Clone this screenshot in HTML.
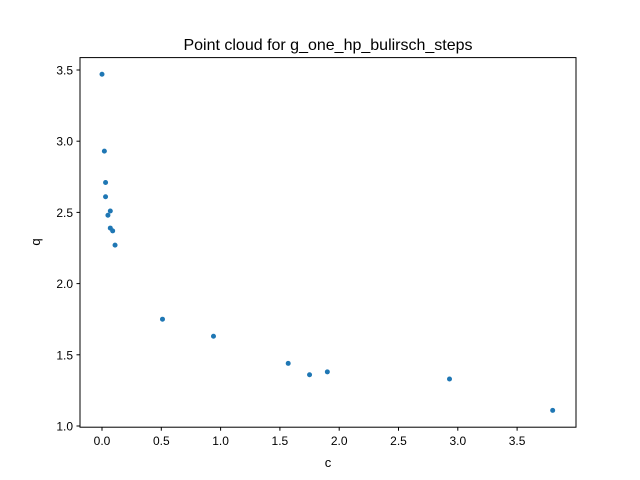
<!DOCTYPE html>
<html><head><meta charset="utf-8"><style>
body{margin:0;background:#fff;}
svg{display:block;font-family:"Liberation Sans","DejaVu Sans",sans-serif;}
</style></head><body>
<svg id="chart" width="640" height="480">
<rect x="0" y="0" width="640" height="480" fill="#fff"/>
<text x="328" y="50" text-anchor="middle" font-size="16">Point cloud for g_one_hp_bulirsch_steps</text>
<g id="xticks"></g>
<g id="yticks"></g>
<g id="points"></g>
<rect x="80" y="57.6" width="496" height="369.6" fill="none" stroke="#000" stroke-width="1"/>
<text x="328" y="467" text-anchor="middle" font-size="13">c</text>
<text x="40" y="242" text-anchor="middle" font-size="13" transform="rotate(-90 40 242)">q</text>
</svg>
<script>
const xValues=[0.0,0.02,0.03,0.03,0.07,0.05,0.07,0.09,0.11,0.51,0.94,1.57,1.75,1.90,2.93,3.80];
const yValues=[3.47,2.93,2.71,2.61,2.51,2.48,2.39,2.37,2.27,1.75,1.63,1.44,1.36,1.38,1.33,1.11];
const xTicks=[0,0.5,1,1.5,2,2.5,3,3.5];
const yTicks=[1,1.5,2,2.5,3,3.5];
const xTickLabels=["0.0","0.5","1.0","1.5","2.0","2.5","3.0","3.5"];
const yTickLabels=["1.0","1.5","2.0","2.5","3.0","3.5"];
const NS="http://www.w3.org/2000/svg";
function sx(v){return 102+v*118.6;}
function sy(v){return 426-(v-1)*142.4;}
function mk(tag,attrs,parent){const e=document.createElementNS(NS,tag);for(const k in attrs)e.setAttribute(k,attrs[k]);parent.appendChild(e);return e;}
const gx=document.getElementById('xticks');
xTicks.forEach((t,i)=>{
  const x=sx(t);
  const l=mk('line',{x1:x,x2:x,y1:427.2,y2:430.7,stroke:'#000'},gx);
  
  
  const tx=mk('text',{x:x,y:445,'text-anchor':'middle','font-size':'12'},gx);
  tx.textContent=xTickLabels[i];
  
  
});
const gy=document.getElementById('yticks');
yTicks.forEach((t,i)=>{
  const y=sy(t);
  const l=mk('line',{x1:76.5,x2:80,y1:y,y2:y,stroke:'#000'},gy);
  
  
  const tx=mk('text',{x:73,y:y+4.5,'text-anchor':'end','font-size':'12'},gy);
  tx.textContent=yTickLabels[i];
  
  
});
const gp=document.getElementById('points');
xValues.forEach((v,i)=>{
  const c=mk('circle',{cx:sx(v),cy:sy(yValues[i]),r:2.5,fill:'#1f77b4'},gp);
  
  
});
</script>
</body></html>
